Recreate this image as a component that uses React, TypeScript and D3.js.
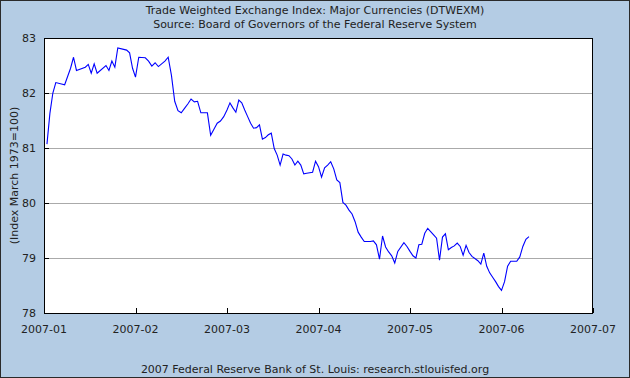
import React from "react";
import * as d3 from "d3";

const TITLE = "Trade Weighted Exchange Index: Major Currencies (DTWEXM)";
const SUBTITLE = "Source: Board of Governors of the Federal Reserve System";
const Y_LABEL = "(Index March 1973=100)";
const FOOTER = "2007 Federal Reserve Bank of St. Louis: research.stlouisfed.org";

const X_TICKS = ["2007-01", "2007-02", "2007-03", "2007-04", "2007-05", "2007-06", "2007-07"];
const Y_TICKS = [78, 79, 80, 81, 82, 83];

const DATES = [
  "2007-01-02","2007-01-03","2007-01-04","2007-01-05","2007-01-08","2007-01-09","2007-01-10","2007-01-11","2007-01-12",
  "2007-01-15","2007-01-16","2007-01-17","2007-01-18","2007-01-19","2007-01-22","2007-01-23","2007-01-24","2007-01-25",
  "2007-01-26","2007-01-29","2007-01-30","2007-01-31",
  "2007-02-01","2007-02-02","2007-02-04","2007-02-05","2007-02-06","2007-02-07","2007-02-08","2007-02-10","2007-02-11",
  "2007-02-12","2007-02-13","2007-02-14","2007-02-15","2007-02-16","2007-02-17","2007-02-18","2007-02-19","2007-02-20",
  "2007-02-21","2007-02-23","2007-02-24","2007-02-25","2007-02-26","2007-02-27","2007-02-28",
  "2007-03-01","2007-03-02","2007-03-03","2007-03-04","2007-03-05","2007-03-06","2007-03-07","2007-03-08","2007-03-09",
  "2007-03-10","2007-03-11","2007-03-12","2007-03-13","2007-03-14","2007-03-15","2007-03-16","2007-03-17","2007-03-18",
  "2007-03-19","2007-03-20","2007-03-21","2007-03-22","2007-03-23","2007-03-24","2007-03-25","2007-03-26","2007-03-27",
  "2007-03-28","2007-03-30","2007-03-31",
  "2007-04-01","2007-04-02","2007-04-03","2007-04-04","2007-04-05","2007-04-06","2007-04-07","2007-04-08","2007-04-09",
  "2007-04-10","2007-04-11","2007-04-12","2007-04-13","2007-04-14","2007-04-15","2007-04-16","2007-04-18","2007-04-19",
  "2007-04-20","2007-04-21","2007-04-22","2007-04-23","2007-04-24","2007-04-25","2007-04-26","2007-04-27","2007-04-29",
  "2007-04-30",
  "2007-05-01","2007-05-02","2007-05-03","2007-05-04","2007-05-05","2007-05-06","2007-05-07","2007-05-08","2007-05-09",
  "2007-05-10","2007-05-11","2007-05-12","2007-05-13","2007-05-14","2007-05-15","2007-05-16","2007-05-17","2007-05-18",
  "2007-05-19","2007-05-20","2007-05-21","2007-05-22","2007-05-24","2007-05-25","2007-05-26","2007-05-27","2007-05-28",
  "2007-05-29","2007-05-30","2007-05-31",
  "2007-06-01","2007-06-02","2007-06-03","2007-06-04","2007-06-06","2007-06-07","2007-06-08","2007-06-09","2007-06-10",
];

const VALUES = [
  81.07, 81.63, 82.0, 82.19, 82.15, 82.3, 82.45, 82.65, 82.41,
  82.47, 82.52, 82.36, 82.53, 82.36, 82.5, 82.41, 82.58, 82.47,
  82.82, 82.78, 82.73, 82.45,
  82.29, 82.65, 82.64, 82.58, 82.49, 82.55, 82.48, 82.58, 82.65,
  82.32, 81.85, 81.68, 81.64, 81.72, 81.8, 81.89, 81.84, 81.85,
  81.64, 81.64, 81.23, 81.34, 81.45, 81.49, 81.57,
  81.69, 81.82, 81.73, 81.65, 81.87, 81.82, 81.69, 81.57, 81.45,
  81.36, 81.37, 81.42, 81.16, 81.19, 81.24, 81.27, 80.99, 80.87,
  80.69, 80.89, 80.87, 80.86, 80.8, 80.69, 80.76, 80.69, 80.53,
  80.54, 80.56, 80.76,
  80.66, 80.47, 80.64, 80.69, 80.75, 80.62, 80.42, 80.37, 80.01,
  79.96, 79.87, 79.8, 79.66, 79.47, 79.38, 79.3, 79.3, 79.31,
  79.24, 78.98, 79.4, 79.2, 79.11, 79.04, 78.91, 79.12, 79.28,
  79.21,
  79.12, 79.04, 79.0, 79.24, 79.25, 79.45, 79.54, 79.48, 79.42,
  79.36, 78.96, 79.38, 79.44, 79.15, 79.19, 79.22, 79.27, 79.21,
  79.05, 79.23, 79.1, 79.03, 78.95, 78.89, 79.09, 78.85, 78.73,
  78.65, 78.57, 78.48,
  78.41, 78.57, 78.85, 78.94, 78.94, 79.02, 79.21, 79.34, 79.39,
];

const W = 630;
const H = 378;
const M = { left: 44, right: 593, top: 38, bottom: 313 };
const FONT = "'DejaVu Sans', Verdana, sans-serif";
const BG = "#B4CCE4";

// Months are drawn with equal widths, as in the reference.
function monthPos(s: string): number {
  const [y, m, d] = s.split("-").map(Number);
  const dim = new Date(y, m, 0).getDate();
  return (y - 2007) * 12 + (m - 1) + (d - 1) / dim;
}

export default function App() {
  const x = d3.scaleLinear().domain([0, 6]).range([M.left, M.right]);
  const y = d3.scaleLinear().domain([78, 83]).range([M.bottom, M.top]);
  const pts: [number, number][] = DATES.map((d, i) => [monthPos(d), VALUES[i]]);
  const line = d3
    .line<[number, number]>()
    .x((p) => x(p[0]))
    .y((p) => y(p[1]));

  return (
    <svg
      width={W}
      height={H}
      style={{ position: "absolute", left: 0, top: 0, display: "block" }}
      fontFamily={FONT}
    >
      <rect x={0.5} y={0.5} width={W - 1} height={H - 1} fill={BG} stroke="#2a2a2a" />
      <text x={315} y={14} textAnchor="middle" fontSize={11} fill="#222">{TITLE}</text>
      <text x={315} y={28} textAnchor="middle" fontSize={11} fill="#222">{SUBTITLE}</text>

      <rect x={M.left} y={M.top} width={M.right - M.left} height={M.bottom - M.top} fill="#fff" />
      {Y_TICKS.slice(1, -1).map((t) => (
        <line key={"g" + t} x1={M.left} x2={M.right} y1={Math.round(y(t)) + 0.5} y2={Math.round(y(t)) + 0.5} stroke="#aaa" />
      ))}
      <path d={line(pts) || ""} fill="none" stroke="#0000ff" strokeWidth={1.1} />
      <rect x={M.left + 0.5} y={M.top + 0.5} width={M.right - M.left - 1} height={M.bottom - M.top} fill="none" stroke="#000" />

      {Y_TICKS.map((t) => (
        <g key={"y" + t}>
          <line x1={M.left} x2={M.left + 5} y1={Math.round(y(t)) + 0.5} y2={Math.round(y(t)) + 0.5} stroke="#000" />
          <text x={36} y={y(t) + 4} textAnchor="end" fontSize={11} fill="#222">{t}</text>
        </g>
      ))}
      {X_TICKS.map((t, i) => (
        <g key={"x" + t}>
          <line x1={Math.round(x(i)) + 0.5} x2={Math.round(x(i)) + 0.5} y1={M.bottom - 5} y2={M.bottom} stroke="#000" />
          <text x={x(i)} y={333} textAnchor="middle" fontSize={11} fill="#222">{t}</text>
        </g>
      ))}
      <text
        transform={`translate(18, ${(M.top + M.bottom) / 2}) rotate(-90)`}
        textAnchor="middle"
        fontSize={11}
        fill="#222"
      >
        {Y_LABEL}
      </text>
      <text x={315} y={373} textAnchor="middle" fontSize={11} fill="#222">{FOOTER}</text>
    </svg>
  );
}
